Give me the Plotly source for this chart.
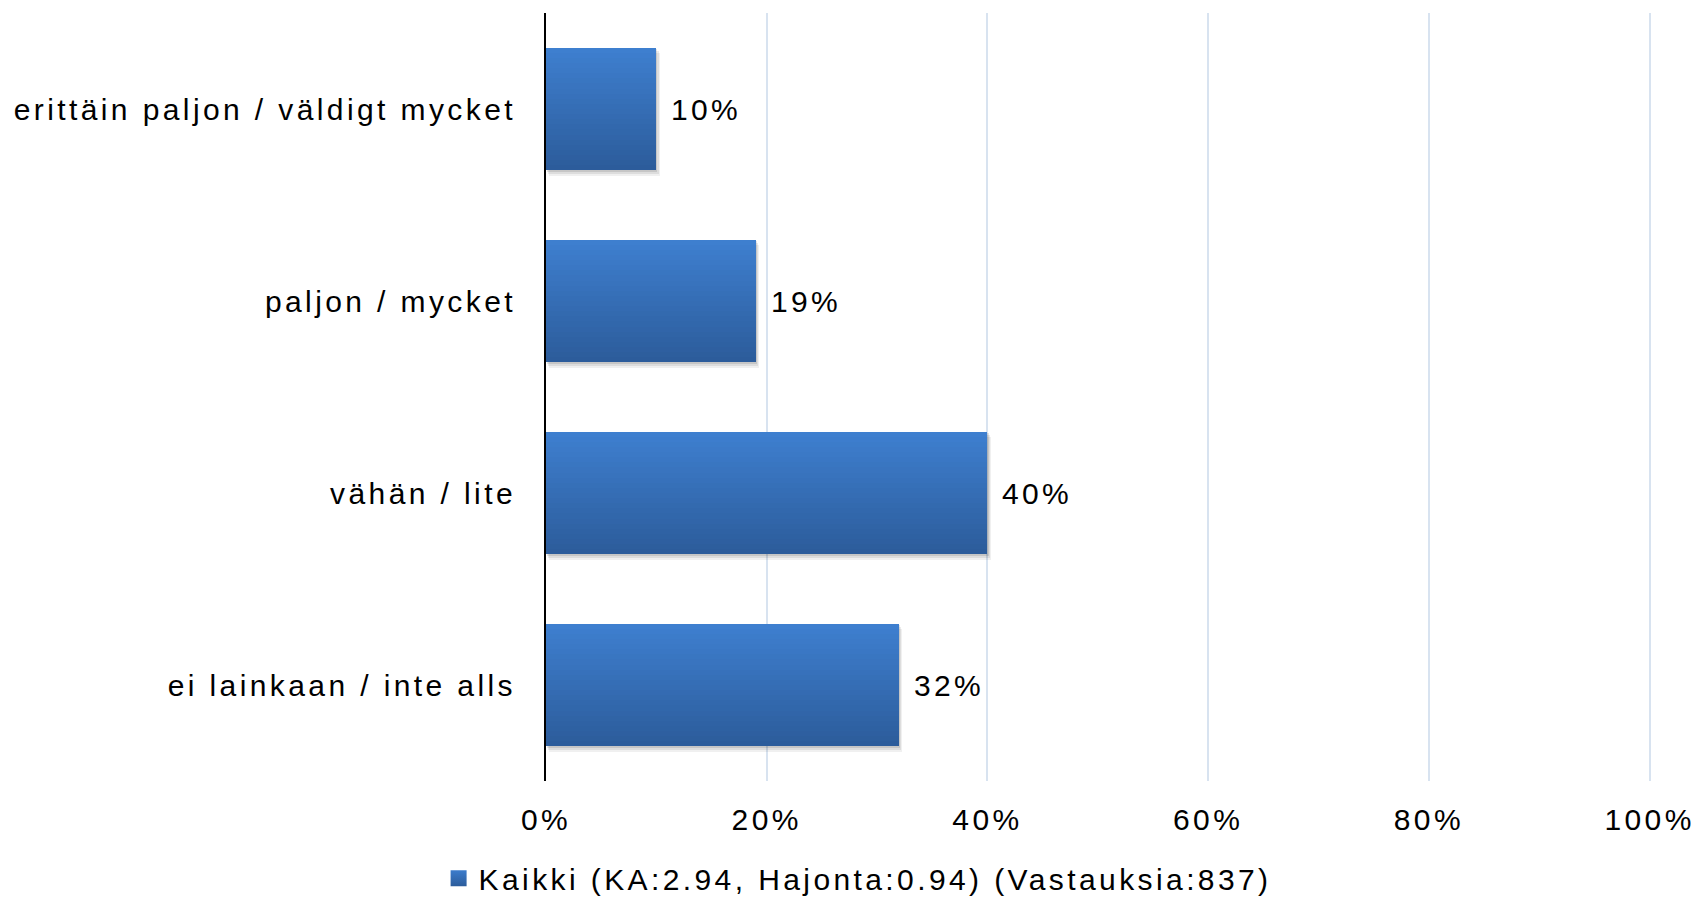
import plotly.graph_objects as go

categories = [
    "erittäin paljon / väldigt mycket",
    "paljon / mycket",
    "vähän / lite",
    "ei lainkaan / inte alls",
]
values = [10, 19, 40, 32]
x_ticks = [0, 20, 40, 60, 80, 100]
x_tick_labels = ["0%", "20%", "40%", "60%", "80%", "100%"]
legend_label = "Kaikki (KA:2.94, Hajonta:0.94) (Vastauksia:837)"

FONT = "Liberation Sans, Arial, sans-serif"
TOP = (0x3E, 0x7F, 0xCF)
BOT = (0x2C, 0x5C, 0x9B)
BAR_W = 0.64
N = 24

fig = go.Figure()

# soft shadow
for k, (dy, alpha) in enumerate([(0.030, 0.06), (0.020, 0.08), (0.010, 0.10)]):
    fig.add_trace(go.Bar(
        orientation="h", y=categories, x=values, base=0.3 - 0.1 * k,
        width=BAR_W, offset=-BAR_W / 2 - dy,
        marker=dict(color=f"rgba(0,0,0,{alpha})", line=dict(width=0)),
        showlegend=False, hoverinfo="skip",
    ))

# gradient bar (top light -> bottom dark)
for i in range(N):
    t = i / (N - 1)
    c = tuple(round(TOP[j] + (BOT[j] - TOP[j]) * t) for j in range(3))
    w = BAR_W - i * BAR_W / N
    fig.add_trace(go.Bar(
        orientation="h", y=categories, x=values,
        width=w, offset=-BAR_W / 2,
        marker=dict(color=f"rgb{c}", line=dict(width=0)),
        showlegend=False, hoverinfo="skip",
    ))

# legend entry
fig.add_trace(go.Scatter(
    x=[None], y=[None], mode="markers", name=legend_label,
    marker=dict(symbol="square", size=17, color="#3C7CCC",
                gradient=dict(type="vertical", color="#2C5C9B")),
))

for cat, v in zip(categories, values):
    fig.add_annotation(
        x=v, y=cat, text=f"{v}%", showarrow=False,
        xanchor="left", xshift=18,
        font=dict(family=FONT, size=30, color="#000000"),
    )

fig.update_layout(
    width=1700, height=898,
    margin=dict(l=546, r=41, t=13, b=117),
    paper_bgcolor="white", plot_bgcolor="white",
    barmode="overlay", bargap=0,
    font=dict(family=FONT, size=30, color="#000000"),
    showlegend=True,
    legend=dict(
        orientation="h", xref="container", yref="container",
        x=0.258, xanchor="left", y=0.022, yanchor="middle",
        font=dict(family=FONT, size=30, color="#000000"),
        itemsizing="trace", bgcolor="rgba(0,0,0,0)",
        entrywidth=950, entrywidthmode="pixels",
    ),
    xaxis=dict(
        range=[0, 100.4], tickvals=x_ticks, ticktext=x_tick_labels,
        showgrid=True, gridcolor="#D8E3F0", gridwidth=2,
        zeroline=False, showline=False, ticks="",
        tickfont=dict(family=FONT, size=30, color="#000000"),
        ticklabelstandoff=18, fixedrange=True,
    ),
    yaxis=dict(
        type="category", categoryorder="array",
        categoryarray=categories[::-1],
        showgrid=False, zeroline=False,
        showline=True, linecolor="#000000", linewidth=2,
        ticks="", ticklabelstandoff=22,
        tickfont=dict(family=FONT, size=30, color="#000000"),
        fixedrange=True,
    ),
)

post = (
    "document.body.style.margin='0';"
    "document.body.style.overflow='hidden';"
    "var s=document.createElement('style');"
    "s.innerHTML='.ytick text,.xtick text,.legendtext,.annotation-text{letter-spacing:3.4px}';"
    "document.head.appendChild(s);"
)
fig.write_html("out.html", post_script=post, config={"displayModeBar": False})
